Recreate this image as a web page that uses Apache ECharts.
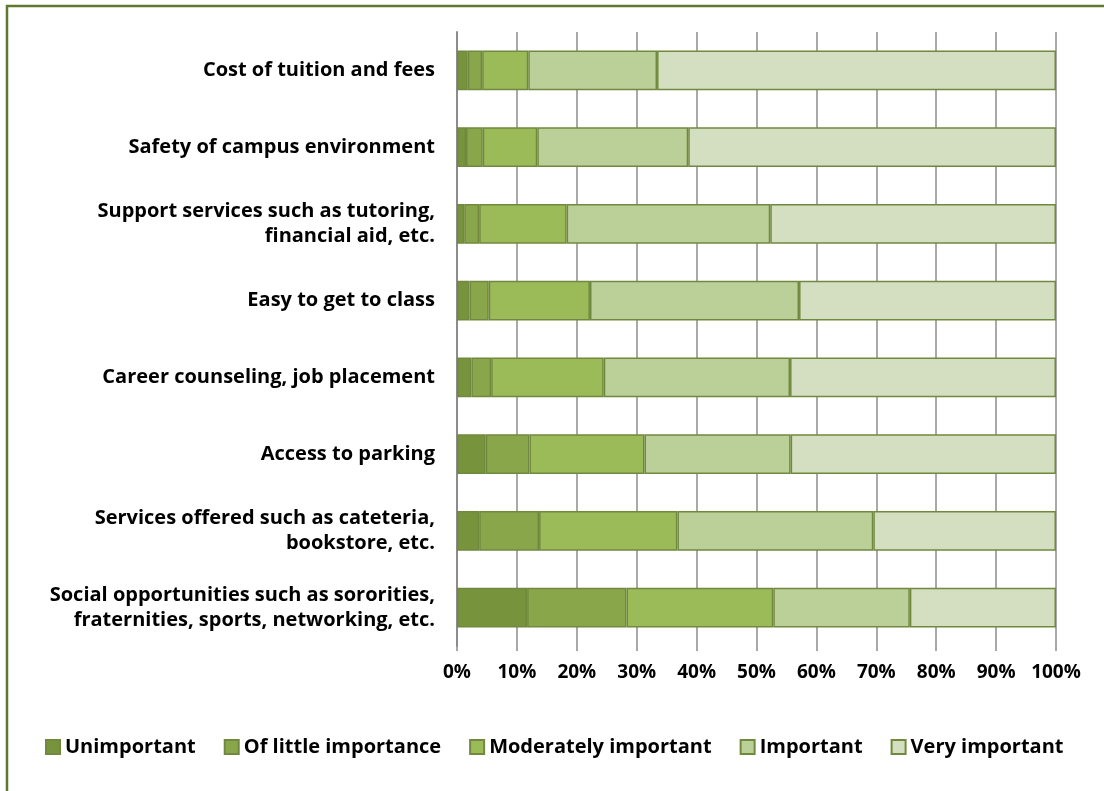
<!DOCTYPE html>
<html>
<head>
<meta charset="utf-8">
<script src="https://cdn.jsdelivr.net/npm/echarts@6/dist/echarts.min.js"></script>
<style>
  html, body { margin: 0; padding: 0; background: #fff; }
  #chart { width: 1104px; height: 791px; }
</style>
</head>
<body>
<div id="chart"></div>
<script>
var categories = [
    'Cost of tuition and fees',
    'Safety of campus environment',
    'Support services such as tutoring,\nfinancial aid, etc.',
    'Easy to get to class',
    'Career counseling, job placement',
    'Access to parking',
    'Services offered such as cateteria,\nbookstore, etc.',
    'Social opportunities such as sororities,\nfraternities, sports, networking, etc.'
];

var seriesNames = ['Unimportant', 'Of little importance', 'Moderately important', 'Important', 'Very important'];

// percentages, one array per response level, in category order
var unimportant   = [1.8, 1.5, 1.2, 2.1, 2.4, 4.8, 3.7, 11.7];
var littleImport  = [2.4, 2.8, 2.5, 3.2, 3.3, 7.3, 10.0, 16.6];
var moderately    = [7.7, 9.1, 14.6, 16.9, 18.8, 19.2, 23.1, 24.5];
var important     = [21.5, 25.2, 34.0, 34.9, 31.1, 24.4, 32.7, 22.8];
var veryImportant = [66.6, 61.4, 47.7, 42.9, 44.4, 44.3, 30.5, 24.4];

var tickLabels = ['0%','10%','20%','30%','40%','50%','60%','70%','80%','90%','100%'];

var colors = ['#77933c', '#8aa64b', '#9bbb59', '#bbcf98', '#d3dfc0'];
var allData = [unimportant, littleImport, moderately, important, veryImportant];

var font = '"Open Sans", sans-serif';

var chart = echarts.init(document.getElementById('chart'));

var series = [];
for (var i = 0; i < seriesNames.length; i++) {
    series.push({
        name: seriesNames[i],
        type: 'bar',
        stack: 'total',
        barWidth: '52%',
        data: allData[i],
        itemStyle: { color: colors[i], borderColor: '#71893f', borderWidth: 1.5 }
    });
}

var option = {
    backgroundColor: '#fff',
    animation: false,
    color: colors,
    textStyle: { fontFamily: font },
    graphic: [{
        type: 'rect',
        shape: { x: 7, y: 6, width: 1200, height: 900 },
        style: { fill: 'none', stroke: '#5f7a2e', lineWidth: 2.5 },
        z: 100
    }],
    grid: { left: 457, right: 48, top: 32, bottom: 145, containLabel: false },
    legend: {
        top: 732,
        left: 40,
        itemWidth: 14,
        itemHeight: 14,
        itemGap: 28,
        icon: 'rect',
        textStyle: { fontSize: 20, fontWeight: 'bold', color: '#000', fontFamily: font },
        data: seriesNames
    },
    xAxis: {
        type: 'value',
        min: 0,
        max: 100,
        interval: 10,
        axisLine: { show: false },
        axisTick: { show: true, length: 5, lineStyle: { color: '#8c8c8c', width: 1.5 } },
        splitLine: { show: true, lineStyle: { color: '#8c8c8c', width: 1.5 } },
        axisLabel: {
            margin: 17,
            fontSize: 19,
            fontWeight: 'bold',
            color: '#000',
            fontFamily: font,
            formatter: function (v) { return tickLabels[Math.round(v / 10)]; }
        }
    },
    yAxis: {
        type: 'category',
        inverse: true,
        data: categories,
        axisLine: { show: true, lineStyle: { color: '#8c8c8c', width: 2 } },
        axisTick: { show: false },
        axisLabel: {
            margin: 22,
            fontSize: 20,
            fontWeight: 'bold',
            color: '#000',
            lineHeight: 25,
            align: 'right',
            fontFamily: font
        }
    },
    series: series
};

chart.setOption(option);
</script>
</body>
</html>
